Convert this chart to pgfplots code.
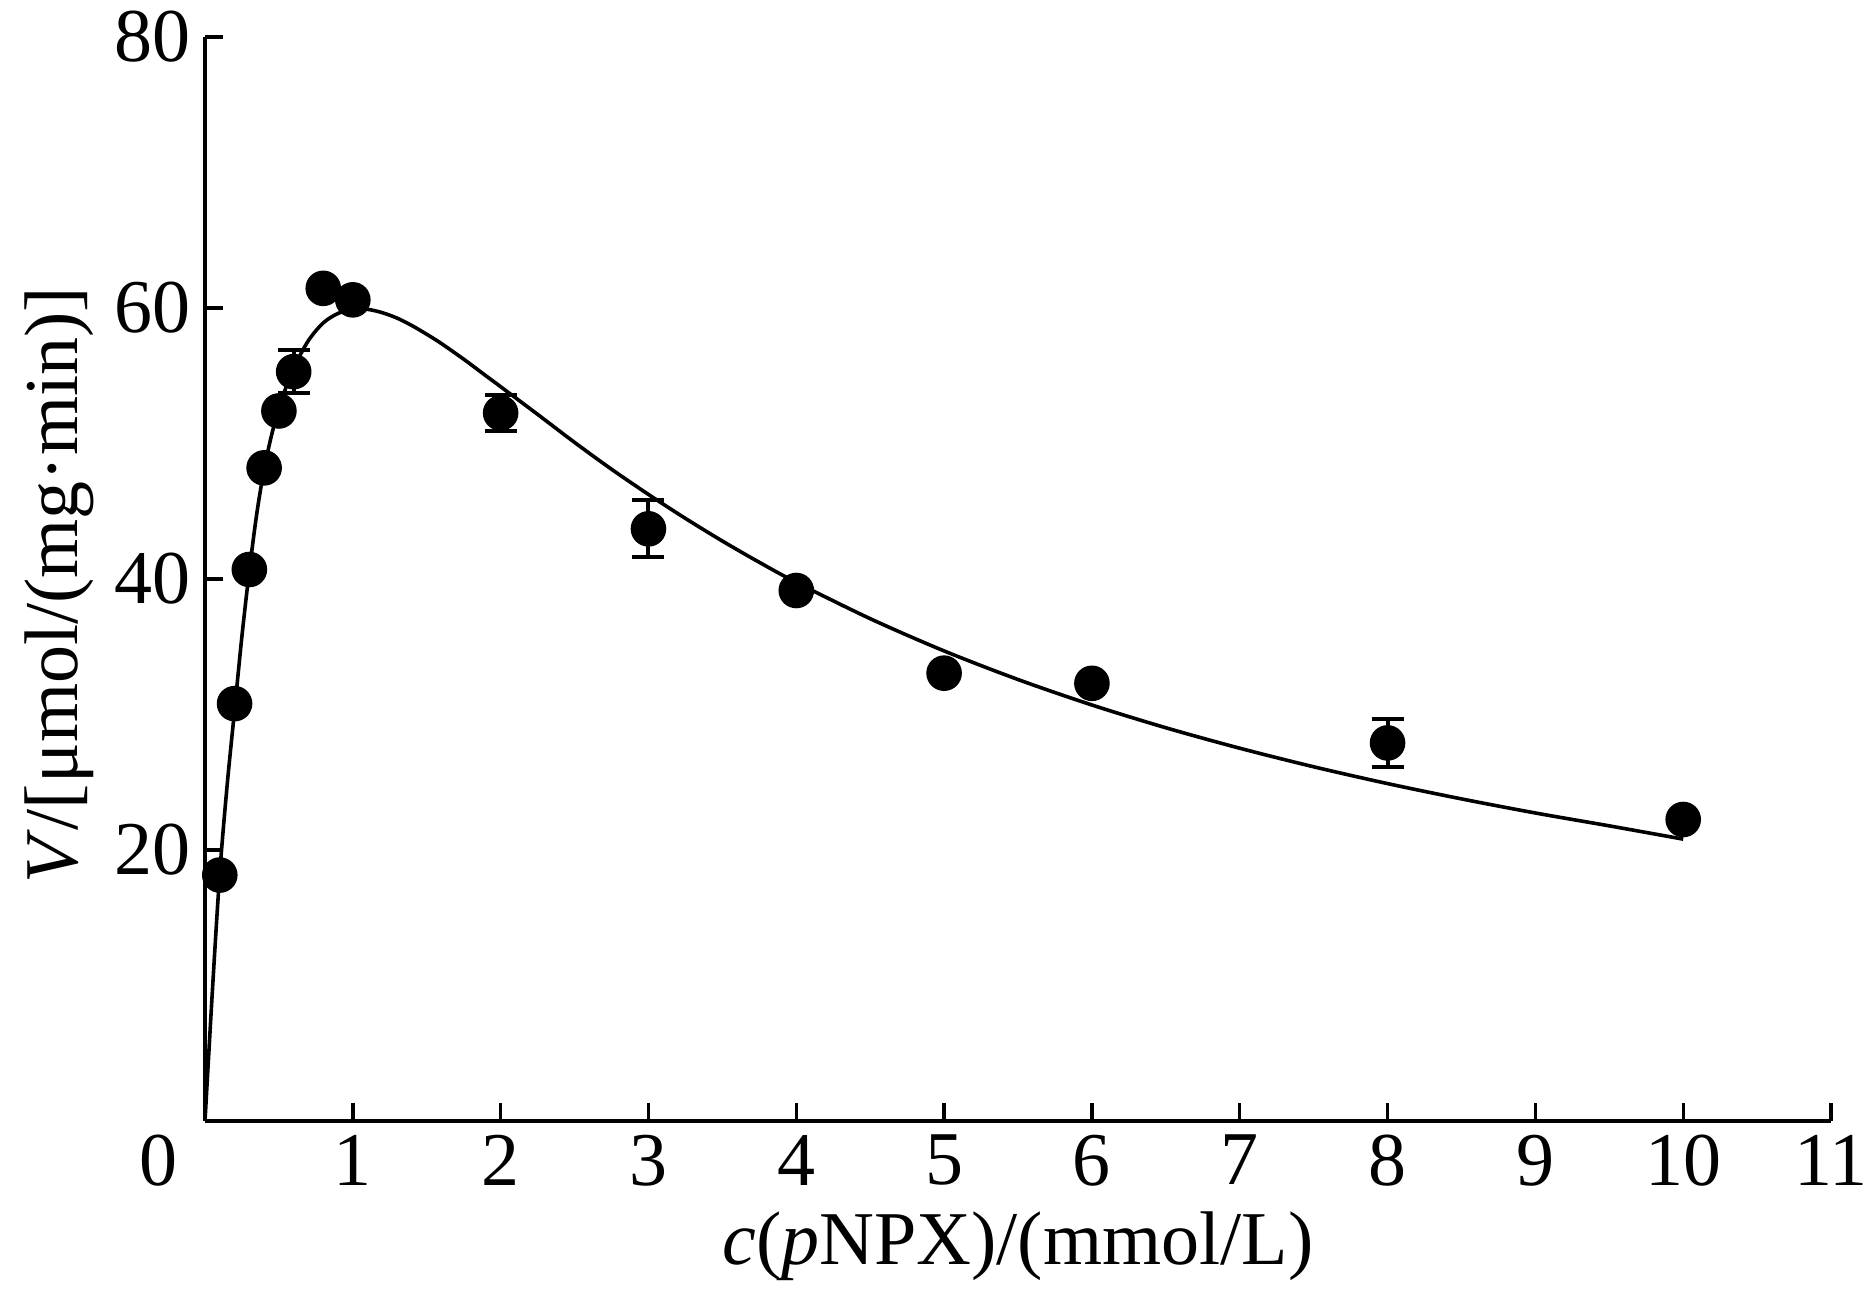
\documentclass[border=0pt]{standalone}
\usepackage{fontspec}
\setmainfont{Liberation Serif}
\usepackage{pgfplots}
\usepackage{pgfplotstable}
\pgfplotsset{compat=1.18}

\pgfplotstableread{
x y err
0.1 18.15 0
0.2 30.8 0
0.3 40.7 0
0.4 48.2 0
0.5 52.4 0
0.6 55.3 1.6
0.8 61.45 0
1.0 60.6 0
2 52.25 1.35
3 43.7 2.1
4 39.15 0
5 33.05 0
6 32.3 0
8 27.9 1.75
10 22.25 0
}\datatable

\pgfplotstableread{
x y
0 0
0.05 9.6
0.1 18.3
0.15 24.8
0.2 30.3
0.25 35.8
0.3 40.6
0.35 44.8
0.4 48.1
0.45 50.6
0.5 52.6
0.55 54.2
0.6 55.6
0.7 57.6
0.8 58.9
0.9 59.6
1.0 59.9
1.1 59.9
1.2 59.65
1.3 59.25
1.4 58.7
1.5 58.06
1.6 57.37
1.75 56.22
1.9 55.0
2.0 54.19
2.25 52.15
2.5 50.08
2.75 48.1
3.0 46.24
3.25 44.47
3.5 42.80
3.75 41.23
4.0 39.75
4.5 37.07
5.0 34.69
5.5 32.58
6.0 30.70
6.5 29.02
7.0 27.51
7.5 26.14
8.0 24.90
8.5 23.77
9.0 22.73
9.5 21.78
10.0 20.8
}\fittable

\begin{document}
\begin{tikzpicture}
\begin{axis}[
  scale only axis,
  width=406.5pt, height=271pt,
  xmin=0, xmax=11, ymin=0, ymax=80,
  axis lines*=left,
  axis line style={line width=0.85pt, -},
  every tick/.style={line width=0.85pt, black},
  tick align=inside,
  major tick length=4.6pt,
  xtick={0,1,...,11},
  xticklabels={\makebox[0pt][r]{0\hspace{6.8pt}},1,2,3,4,5,6,7,8,9,10,11},
  ytick={20,40,60,80},
  /pgf/number format/assume math mode=true,
  tick label style={font=\fontsize{19}{22.8}\selectfont},
  label style={font=\fontsize{19}{22.8}\selectfont},
  xlabel={\textit{c}(\textit{p}NPX)/(mmol/L)},
  ylabel={\textit{V}/[μmol/(mg·min)]},
  xlabel style={at={(axis description cs:0.5,-0.1328)}, anchor=base},
  ylabel style={at={(axis description cs:-0.0787,0.494)}, anchor=base, rotate=0},
  clip=false,
]
\addplot[black, line width=0.9pt, no marks, smooth, tension=0.5] table[x=x, y=y] {\fittable};
\addplot[
  only marks, mark=*, mark size=4.3pt,
  mark options={fill=black, draw=black, line width=0.3pt},
  error bars/.cd, y dir=both, y explicit,
  error bar style={line width=1pt, black},
  error mark options={rotate=90, mark size=4pt, line width=1pt, black},
] table[x=x, y=y, y error=err] {\datatable};
\end{axis}
\pgfresetboundingbox
\path ([shift={(-51.25pt,-47.25pt)}]current axis.south west) rectangle ([shift={(9.75pt,9.25pt)}]current axis.north east);
\end{tikzpicture}
\end{document}
